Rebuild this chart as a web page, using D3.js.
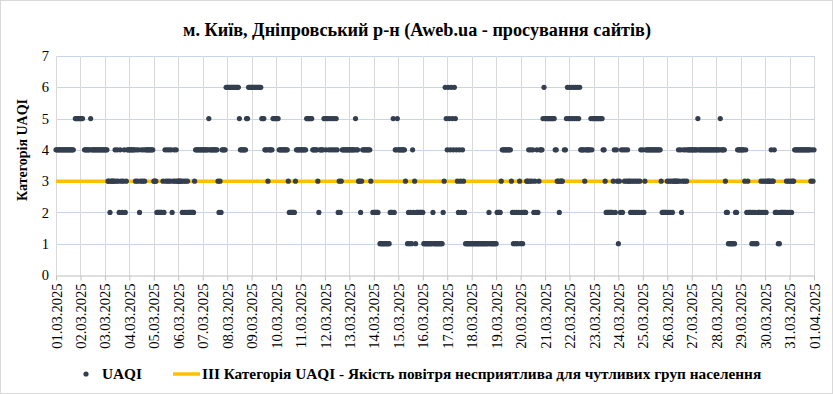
<!DOCTYPE html>
<html><head><meta charset="utf-8">
<script src="https://cdn.jsdelivr.net/npm/d3@7"></script>
<style>
html,body{margin:0;padding:0;background:#fff;}
svg{display:block;font-family:"Liberation Serif","Times New Roman",serif;}
</style></head>
<body><svg id="chart" width="833" height="394"></svg>
<script>
// ---- data ----
const chartTitle = "м. Київ, Дніпровський р-н (Aweb.ua - просування сайтів)";
const yTitle = "Категорія UAQI";
const seriesName = "UAQI";
const thresholdName = "III Категорія UAQI - Якість повітря несприятлива для чутливих груп населення";
const thresholdValue = 3;
const yTicks = [0, 1, 2, 3, 4, 5, 6, 7];
const dayLabels = ["01.03.2025","02.03.2025","03.03.2025","04.03.2025","05.03.2025","06.03.2025",
  "07.03.2025","08.03.2025","09.03.2025","10.03.2025","11.03.2025","12.03.2025","13.03.2025",
  "14.03.2025","15.03.2025","16.03.2025","17.03.2025","18.03.2025","19.03.2025","20.03.2025",
  "21.03.2025","22.03.2025","23.03.2025","24.03.2025","25.03.2025","26.03.2025","27.03.2025",
  "28.03.2025","29.03.2025","30.03.2025","31.03.2025","01.04.2025"];
// hourly UAQI category, one string of 24 hours per day ('-' = no reading)
const hourlyByDay = [
  "444444444444444444-55555",
  "555-44444454444444444444",
  "444332333343432432342344",
  "444444343423434344444444",
  "333222222324343434234343",
  "333323232322222234444444",
  "444444544444444323244446",
  "666666666666544444455666",
  "666666666655544434444555",
  "555444444444322222234444",
  "444444555555444443244445",
  "545545454545423234444444",
  "4444445443323444444443-2",
  "22222-111111111122252445",
  "44444443-121214231222222",
  "211111111121111111112365",
  "465465465432432432111111",
  "111111111111111112111111",
  "122223444444444321212123",
  "121222334343423242344456",
  "555555555544332333-44565",
  "656565656564444344444545",
  "555555555443222222234243",
  "132424343433232323232342",
  "423444444444444444322222",
  "323232333334342343434444",
  "444444544444444444444444",
  "444454444322111111122444",
  "444434232221212112223232",
  "323333433422211222222323",
  "232334444444444444444343",
  "4"
];

// ---- build ----
const points = hourlyByDay.join("").split("")
  .map((c, i) => ({ h: i, v: c === "-" ? null : +c }))
  .filter(d => d.v !== null);
const nHours = (dayLabels.length - 1) * 24;

const svg = d3.select("#chart");
const W = 833, H = 394;
const m = { left: 56, right: 19, top: 56, bottom: 119 };
const x = d3.scaleLinear().domain([0, nHours]).range([m.left, W - m.right]);
const y = d3.scaleLinear().domain([0, 7]).range([H - m.bottom, m.top]);
const font = '"Liberation Serif","Times New Roman",serif';

// outer border
svg.append("rect").attr("x", 0.5).attr("y", 0.5).attr("width", W - 1).attr("height", H - 1)
  .attr("fill", "#fff").attr("stroke", "#d9d9d9");

// horizontal grid
svg.append("g").selectAll("line").data(yTicks.filter(t => t > 0)).join("line")
  .attr("x1", x(0)).attr("x2", x(nHours))
  .attr("y1", d => Math.round(y(d)) + 0.5).attr("y2", d => Math.round(y(d)) + 0.5)
  .attr("stroke", "#c6d5ec").attr("stroke-width", 1);

// vertical grid
const dayTicks = d3.range(0, nHours + 1, 24);
svg.append("g").selectAll("line").data(dayTicks).join("line")
  .attr("x1", d => Math.round(x(d)) + 0.5).attr("x2", d => Math.round(x(d)) + 0.5)
  .attr("y1", y(7)).attr("y2", y(0))
  .attr("stroke", "#d9d9d9").attr("stroke-width", 1);

// x axis
const xAxis = d3.axisBottom(x).tickValues(dayTicks).tickFormat((d, i) => dayLabels[i]).tickSize(5).tickSizeOuter(0);
const gx = svg.append("g").attr("transform", `translate(0,${Math.round(y(0)) + 0.5})`).call(xAxis);
gx.select(".domain").attr("stroke", "#bfbfbf");
gx.selectAll(".tick line").attr("stroke", "#bfbfbf");
gx.selectAll(".tick text")
  .attr("transform", "rotate(-90)")
  .attr("x", -8).attr("y", 0).attr("dy", "0.35em")
  .attr("text-anchor", "end")
  .attr("font-family", font).attr("font-size", "14.5px").attr("fill", "#000");

// y axis labels
const yAxis = d3.axisLeft(y).tickValues(yTicks).tickFormat(d3.format("d")).tickSize(0);
const gy = svg.append("g").attr("transform", `translate(${x(0) - 6},0)`).call(yAxis);
gy.select(".domain").remove();
gy.selectAll(".tick text").attr("font-family", font).attr("font-size", "14.5px").attr("fill", "#000").attr("x", -1);

// threshold line
svg.append("line")
  .attr("x1", x(0)).attr("x2", x(nHours))
  .attr("y1", y(thresholdValue)).attr("y2", y(thresholdValue))
  .attr("stroke", "#ffc000").attr("stroke-width", 3.5);

// points
svg.append("g").selectAll("circle").data(points).join("circle")
  .attr("cx", d => x(d.h)).attr("cy", d => y(d.v)).attr("r", 2.6)
  .attr("fill", "#333f50");

// title
svg.append("text").attr("x", W / 2 + 0.5).attr("y", 36).attr("text-anchor", "middle")
  .attr("font-family", font).attr("font-weight", "bold").attr("font-size", "18.2px")
  .text(chartTitle);

// y title
svg.append("text").attr("transform", `translate(26.5,150) rotate(-90)`)
  .attr("text-anchor", "middle").attr("font-family", font).attr("font-weight", "bold")
  .attr("font-size", "14px").text(yTitle);

// legend
const lg = svg.append("g").attr("transform", "translate(0,374)");
lg.append("circle").attr("cx", 86).attr("cy", 0).attr("r", 2.6).attr("fill", "#333f50");
lg.append("text").attr("x", 102).attr("y", 0).attr("dy", "0.35em")
  .attr("font-family", font).attr("font-weight", "bold").attr("font-size", "15.3px").text(seriesName);
lg.append("line").attr("x1", 173).attr("x2", 200).attr("y1", 0).attr("y2", 0)
  .attr("stroke", "#ffc000").attr("stroke-width", 3.5);
lg.append("text").attr("x", 202).attr("y", 0).attr("dy", "0.35em")
  .attr("font-family", font).attr("font-weight", "bold").attr("font-size", "15.3px").text(thresholdName);
</script></body></html>
